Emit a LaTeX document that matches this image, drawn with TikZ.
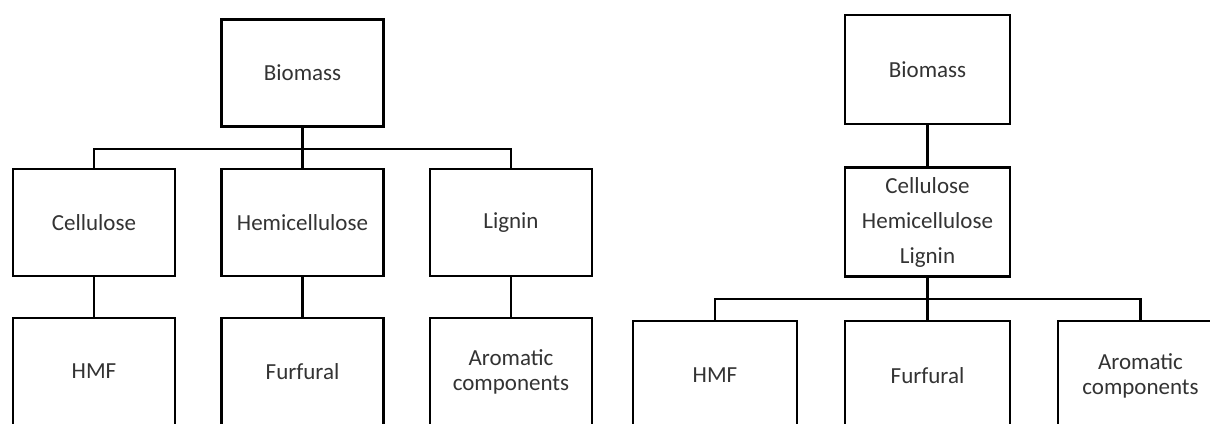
\documentclass[tikz,border=0pt]{standalone}
\usepackage{fontspec}
\setmainfont{Carlito}
\begin{document}
\begin{tikzpicture}[x=1pt,y=-1pt,
  box/.style={draw=black, line width=2.8pt, rectangle, inner sep=0pt, align=center,
    text=black!80, font=\fontsize{23}{25}\selectfont},
  lbox/.style={box, minimum width=162pt, minimum height=107pt},
  rbox/.style={box, minimum width=165pt, minimum height=109pt},
  link/.style={line width=2.8pt, line join=miter}]
\clip (0,0) rectangle (1210,423);
\fill[white] (0,0) rectangle (1210,423);
% left panel
\node[lbox] (B1) at (302.5,73) {Biomass};
\node[lbox] (C1) at (94,222.5) {Cellulose};
\node[lbox] (H1) at (302.5,222.5) {Hemicellulose};
\node[lbox] (L1) at (511,222.5) {Lignin};
\node[lbox] (P1) at (94,371.5) {HMF};
\node[lbox] (F1) at (302.5,371.5) {Furfural};
\node[lbox] (A1) at (511,371.5) {Aromatic\\components};
\coordinate (bus1) at (0,149);
\draw[link] (B1.south) -- (H1.north);
\draw[link] (C1.north) -- (C1.north |- bus1) -- (L1.north |- bus1) -- (L1.north);
\draw[link] (C1.south) -- (P1.north);
\draw[link] (H1.south) -- (F1.north);
\draw[link] (L1.south) -- (A1.north);
% right panel
\node[rbox] (B2) at (927.5,69.5) {Biomass};
\node[rbox, font=\fontsize{23}{35}\selectfont] (M2) at (927.5,222) {Cellulose\\Hemicellulose\\Lignin};
\node[rbox, minimum width=164pt] (P2) at (715,375.5) {HMF};
\node[rbox] (F2) at (927.5,375.5) {Furfural};
\node[rbox] (A2) at (1140.5,375.5) {Aromatic\\components};
\coordinate (bus2) at (0,299);
\draw[link] (B2.south) -- (M2.north);
\draw[link] (M2.south) -- (F2.north);
\draw[link] (P2.north) -- (P2.north |- bus2) -- (A2.north |- bus2) -- (A2.north);
\end{tikzpicture}
\end{document}
